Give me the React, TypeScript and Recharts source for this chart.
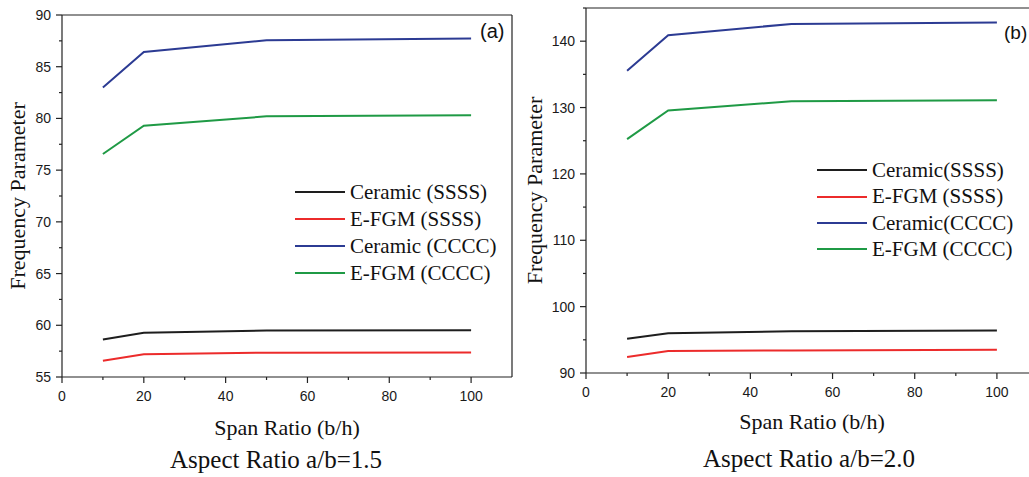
import { LineChart, Line, XAxis, YAxis, Legend, ReferenceLine } from 'recharts'

const spanRatios = [10, 20, 50, 100]

// (a) aspect ratio a/b = 1.5
const ceramicSSSS_a = [58.63, 59.28, 59.5, 59.53]
const efgmSSSS_a = [56.58, 57.19, 57.35, 57.38]
const ceramicCCCC_a = [82.98, 86.42, 87.55, 87.72]
const efgmCCCC_a = [76.56, 79.3, 80.2, 80.3]

// (b) aspect ratio a/b = 2.0
const ceramicSSSS_b = [95.15, 96.0, 96.3, 96.4]
const efgmSSSS_b = [92.4, 93.3, 93.4, 93.5]
const ceramicCCCC_b = [135.55, 140.9, 142.6, 142.8]
const efgmCCCC_b = [125.24, 129.55, 130.95, 131.1]

const xTicks = [0, 10, 20, 30, 40, 50, 60, 70, 80, 90, 100]
const yTicksA = [55, 57.5, 60, 62.5, 65, 67.5, 70, 72.5, 75, 77.5, 80, 82.5, 85, 87.5, 90]
const yTicksB = [90, 95, 100, 105, 110, 115, 120, 125, 130, 135, 140, 145]

const namesA = ['Ceramic (SSSS)', 'E-FGM (SSSS)', 'Ceramic (CCCC)', 'E-FGM (CCCC)']
const namesB = ['Ceramic(SSSS)', 'E-FGM (SSSS)', 'Ceramic(CCCC)', 'E-FGM (CCCC)']
const colors = ['#1e1e1e', '#ec2b2b', '#2c3b93', '#1f9a45']

const axisColor = '#222'
const serif = '"Liberation Serif", "Times New Roman", serif'
const sans = '"Liberation Sans", Arial, sans-serif'

function XTick({ x, y, payload }: any) {
  const major = payload.value % 20 === 0
  return (
    <g>
      <line x1={x} y1={y} x2={x} y2={y + (major ? 6 : 3)} stroke={axisColor} strokeWidth={1.2} />
      {major && (
        <text x={x} y={y + 24} textAnchor="middle" fontSize={14} fontFamily={sans} fill="#1a1a1a">
          {payload.value}
        </text>
      )}
    </g>
  )
}

function makeYTick(step: number) {
  return function YTick({ x, y, payload }: any) {
    const major = payload.value % step === 0
    return (
      <g>
        <line x1={x} y1={y} x2={x - (major ? 6 : 3)} y2={y} stroke={axisColor} strokeWidth={1.2} />
        {major && (
          <text x={x - 11} y={y} dy="0.36em" textAnchor="end" fontSize={14} fontFamily={sans} fill="#1a1a1a">
            {payload.value}
          </text>
        )}
      </g>
    )
  }
}

function LegendRows({ payload, rowH }: any) {
  const items = [...(payload || [])].sort((a: any, b: any) => String(a.dataKey).localeCompare(String(b.dataKey)))
  return (
    <div>
      {items.map((p: any) => (
        <div key={p.value} style={{ display: 'flex', alignItems: 'center', height: rowH }}>
          <span style={{ display: 'inline-block', width: 50, height: 2, background: p.color, marginRight: 5 }} />
          <span style={{ fontFamily: serif, fontSize: 21, color: '#111', lineHeight: rowH + 'px', whiteSpace: 'nowrap' }}>
            {p.value}
          </span>
        </div>
      ))}
    </div>
  )
}

interface PanelProps {
  series: number[][]
  names: string[]
  yDomain: [number, number]
  yTicks: number[]
  yStep: number
  left: number
  width: number
  top: number
  right: number
  yAxisWidth: number
  xAxisHeight: number
  xLabelOffset: number
  yLabelOffset: number
  legendLeft: number
  legendTop: number
  rowH: number
}

function Panel(p: PanelProps) {
  const data = spanRatios.map((x, i) => ({
    x,
    s0: p.series[0][i],
    s1: p.series[1][i],
    s2: p.series[2][i],
    s3: p.series[3][i],
  }))
  const YTick = makeYTick(p.yStep)
  return (
    <div style={{ position: 'absolute', left: p.left, top: 0 }}>
      <LineChart width={p.width} height={477} data={data} margin={{ top: p.top, right: p.right, bottom: 0, left: 0 }}>
        <XAxis
          type="number"
          dataKey="x"
          domain={[0, 110]}
          ticks={xTicks}
          interval={0}
          height={p.xAxisHeight}
          tickSize={0}
          tickMargin={0}
          tickLine={false}
          tick={<XTick />}
          axisLine={{ stroke: axisColor, strokeWidth: 1.2 }}
          label={{
            value: 'Span Ratio (b/h)',
            position: 'insideTop',
            offset: p.xLabelOffset,
            style: { fontFamily: serif, fontSize: 22, fill: '#111' },
          }}
        />
        <YAxis
          type="number"
          domain={p.yDomain}
          ticks={p.yTicks}
          interval={0}
          width={p.yAxisWidth}
          tickSize={0}
          tickMargin={0}
          tickLine={false}
          tick={<YTick />}
          axisLine={{ stroke: axisColor, strokeWidth: 1.2 }}
          label={{
            value: 'Frequency Parameter',
            position: 'insideLeft',
            angle: -90,
            offset: p.yLabelOffset,
            style: { fontFamily: serif, fontSize: 22, fill: '#111', textAnchor: 'middle' },
          }}
        />
        <ReferenceLine y={p.yDomain[1]} stroke={axisColor} strokeWidth={1.2} />
        <ReferenceLine x={110} stroke={axisColor} strokeWidth={1.2} />
        <Legend
          layout="vertical"
          verticalAlign="middle"
          align="center"
          itemSorter="dataKey"
          wrapperStyle={{ left: p.legendLeft, top: p.legendTop, width: 'auto' }}
          content={(props: any) => <LegendRows {...props} rowH={p.rowH} />}
        />
        {[0, 1, 2, 3].map(i => (
          <Line
            key={i}
            type="linear"
            dataKey={'s' + i}
            name={p.names[i]}
            stroke={colors[i]}
            strokeWidth={2}
            dot={false}
            isAnimationActive={false}
          />
        ))}
      </LineChart>
    </div>
  )
}

export default function App() {
  return (
    <div style={{ position: 'fixed', left: 0, top: 0, width: 1029, height: 477, overflow: 'hidden', background: '#fff' }}>
      <Panel
        series={[ceramicSSSS_a, efgmSSSS_a, ceramicCCCC_a, efgmCCCC_a]}
        names={namesA}
        yDomain={[55, 90]}
        yTicks={yTicksA}
        yStep={5}
        left={0}
        width={525}
        top={15}
        right={13}
        yAxisWidth={62}
        xAxisHeight={100}
        xLabelOffset={42}
        yLabelOffset={17.5}
        legendLeft={295}
        legendTop={179}
        rowH={26.9}
      />
      <Panel
        series={[ceramicSSSS_b, efgmSSSS_b, ceramicCCCC_b, efgmCCCC_b]}
        names={namesB}
        yDomain={[90, 145]}
        yTicks={yTicksB}
        yStep={10}
        left={520}
        width={540}
        top={8}
        right={22}
        yAxisWidth={66}
        xAxisHeight={104}
        xLabelOffset={40}
        yLabelOffset={14}
        legendLeft={297}
        legendTop={157}
        rowH={26.4}
      />
      <svg width={1029} height={477} style={{ position: 'absolute', left: 0, top: 0, pointerEvents: 'none' }}>
        <text x={480} y={38} fontFamily={sans} fontSize={20} fill="#111">(a)</text>
        <text x={1004} y={39} fontFamily={sans} fontSize={19} fill="#111">(b)</text>
        <text x={276} y={468} textAnchor="middle" fontFamily={serif} fontSize={25} fill="#111">Aspect Ratio a/b=1.5</text>
        <text x={809} y={467} textAnchor="middle" fontFamily={serif} fontSize={25} fill="#111">Aspect Ratio a/b=2.0</text>
      </svg>
    </div>
  )
}
